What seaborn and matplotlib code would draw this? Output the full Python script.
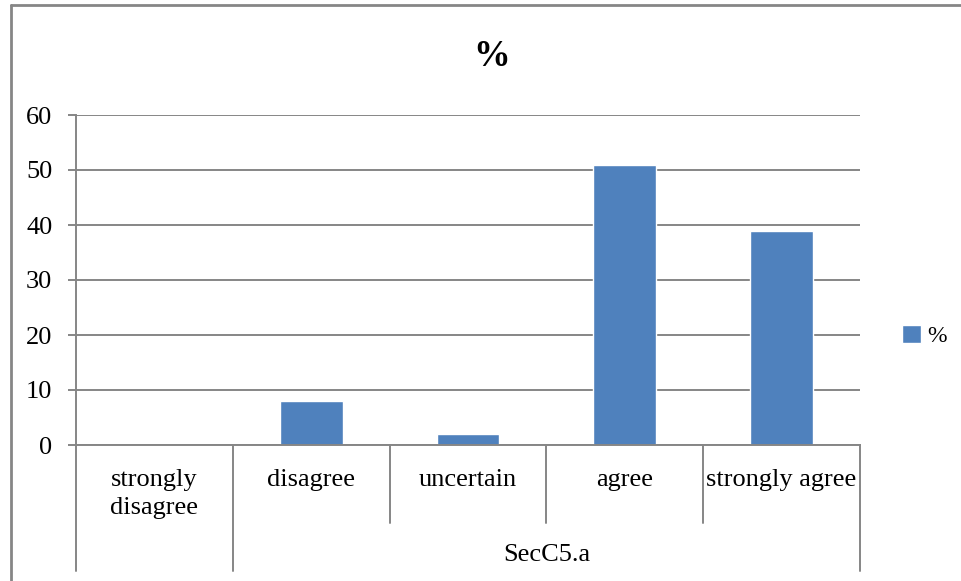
import matplotlib
matplotlib.use("Agg")
import matplotlib.pyplot as plt
from matplotlib.lines import Line2D
import seaborn as sns
import pandas as pd

categories = ["strongly\ndisagree", "disagree", "uncertain", "agree", "strongly agree"]
percent = [0, 8, 2, 51, 39]
group_label = "SecC5.a"
series_name = "%"
y_ticks = [0, 10, 20, 30, 40, 50, 60]

sns.set_theme(style="white")
plt.rcParams["font.family"] = ["Liberation Serif", "DejaVu Serif"]
plt.rcParams["text.color"] = "black"

W, H = 961, 581
fig = plt.figure(figsize=(W / 100, H / 100), dpi=100)
ax = fig.add_axes([76 / W, 1 - 445 / H, (860 - 76) / W, (445 - 115) / H])

df = pd.DataFrame({"category": categories, "value": percent})
sns.barplot(data=df, x="category", y="value", order=categories, color="#4F81BD",
            saturation=1, width=0.4, ax=ax, label=series_name)
if ax.get_legend() is not None:
    ax.get_legend().remove()

grid_c = "#868686"
fs = 19
ax.set_ylim(0, 60)
ax.set_xlim(-0.5, len(categories) - 0.5)
ax.set_yticks(y_ticks)
ax.set_yticklabels([str(t) for t in y_ticks], fontsize=fs, color="black")
ax.yaxis.grid(True, color=grid_c, linewidth=1.4)
ax.set_axisbelow(True)
for s in ["top", "right"]:
    ax.spines[s].set_visible(False)
for s in ["left", "bottom"]:
    ax.spines[s].set_color(grid_c)
    ax.spines[s].set_linewidth(1.4)
ax.tick_params(axis="y", which="both", left=True, length=6, width=1.4, color=grid_c, pad=11)
ax.tick_params(axis="x", bottom=False, labelbottom=False)
ax.set_xlabel("")
ax.set_ylabel("")

# category labels and multi-level separators below the axis
tr = ax.get_xaxis_transform()
for i, lab in enumerate(categories):
    ax.text(i, -0.072, lab, transform=tr, ha="center", va="top", fontsize=fs,
            linespacing=1.38, color="black")
short_sep = -78 / 330
long_sep = -126 / 330
n = len(categories)
for b in range(n + 1):
    x = b - 0.5
    low = long_sep if b in (0, 1, n) else short_sep
    ax.add_line(Line2D([x, x], [0, low], transform=tr, color=grid_c, linewidth=1.4,
                       clip_on=False))
ax.text((0.5 + n - 0.5) / 2, -0.333, group_label, transform=tr, ha="center", va="center",
        fontsize=fs, color="black")

fig.text(492 / W, 1 - 57 / H, "%", ha="center", va="center", fontsize=26.5,
         fontweight="bold", color="black")

handles, labels = ax.get_legend_handles_labels()
fig.legend(handles, labels, loc="center left", bbox_to_anchor=(902 / W, 1 - 336 / H),
           frameon=False, fontsize=17, handlelength=0.8, handleheight=0.8,
           handletextpad=0.25, borderpad=0, borderaxespad=0)

# outer chart frame
fig.add_artist(Line2D([11 / W, 1], [1 - 5 / H, 1 - 5 / H], transform=fig.transFigure,
                      color=grid_c, linewidth=2))
fig.add_artist(Line2D([11 / W, 11 / W], [0, 1 - 5 / H], transform=fig.transFigure,
                      color=grid_c, linewidth=2))

fig.savefig("out.png", dpi=100, facecolor="white")
